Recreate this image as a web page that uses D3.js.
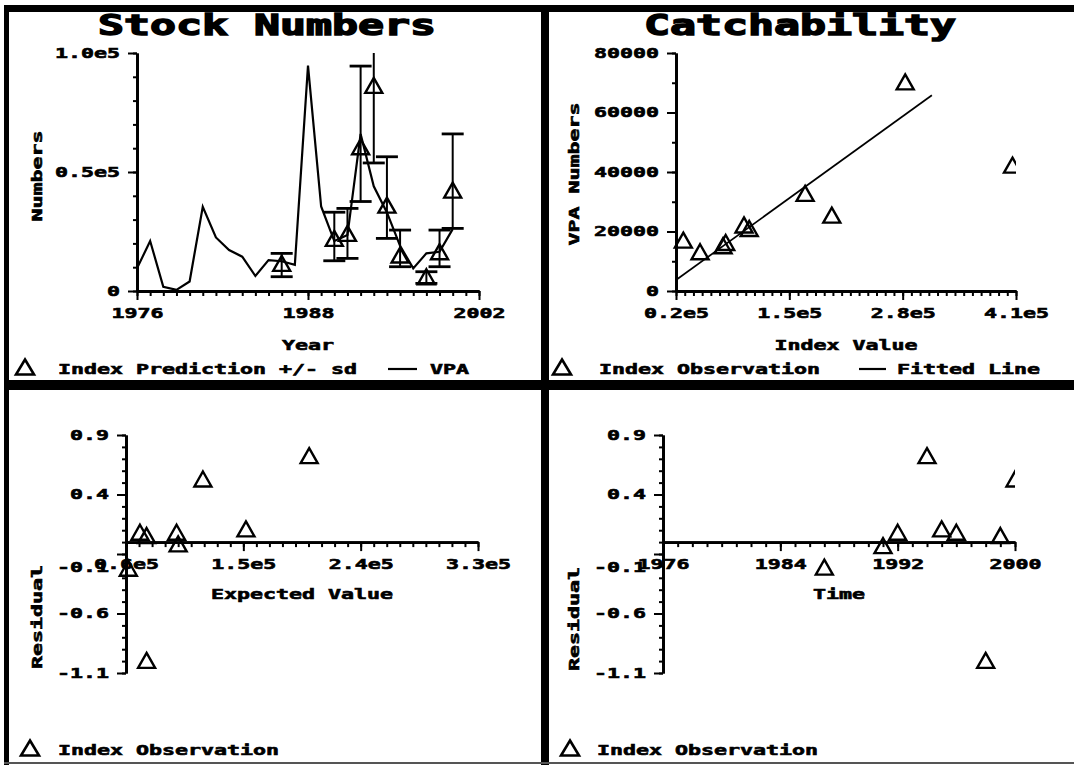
<!DOCTYPE html>
<html><head><meta charset="utf-8">
<script src="https://cdn.jsdelivr.net/npm/d3@7"></script>
<style>html,body{margin:0;padding:0;background:#fff;} svg{display:block;}</style>
</head><body>
<svg id="c" width="1074" height="765"></svg>
<script>
// ---------------- DATA ----------------
// Panel 1: Stock Numbers
const vpaYears  = [1976,1977,1978,1979,1980,1981,1982,1983,1984,1985,1986,1987,1988,1989,1990,1991,1992,1993,1994,1995,1996,1997,1998,1999,2000];
const vpaValues = [9500,21000,1800,500,4000,35400,22500,17200,14400,6300,13000,12500,11000,94700,35500,21000,23500,66000,44000,33000,19000,9500,15800,16500,26000];
const idxYears  = [1987,1991,1992,1993,1994,1995,1996,1998,1999,2000];
const idxPred   = [11600,22100,24200,60600,86400,36100,15100,6000,16500,42400];
const idxLower  = [6000,12700,13700,37600,53800,22100,10200,3200,10200,26300];
const idxUpper  = [15800,33100,34700,94500,108000,56400,25600,8100,25600,66000];
const stockXTicks  = [1976,1989,2002];
const stockXLabels = ["1976","1988","2002"];
const stockYTicks  = [0,50000,100000];
const stockYLabels = ["0","0.5e5","1.0e5"];

// Panel 2: Catchability
const catchIndex = [28400,47600,74000,77000,98000,104000,168100,198700,282900,406000];
const catchVPA   = [17100,13200,15200,16300,22200,21000,32800,25500,70300,42300];
const fitIndex   = [20000,313500];
const fitVPA     = [3700,65800];
const catchXTicks  = [20000,150000,280000,410000];
const catchXLabels = ["0.2e5","1.5e5","2.8e5","4.1e5"];
const catchYTicks  = [0,20000,40000,60000,80000];
const catchYLabels = ["0","20000","40000","60000","80000"];

// Panel 3: Residual vs Expected Value
const resExpected = [61800,70700,75800,98800,100000,119000,152000,200500,75800];
const resExpValue = [-0.22,0.083,0.055,0.083,-0.015,0.53,0.111,0.727,-0.994];
const expXTicks  = [60000,150000,240000,330000];
const expXLabels = ["0.6e5","1.5e5","2.4e5","3.3e5"];

// Panel 4: Residual vs Time
const resYears     = [1987,1991,1992,1994,1995,1996,1998,1999,2000];
const resTimeValue = [-0.21,-0.03,0.083,0.727,0.111,0.083,-0.994,0.055,0.53];
const timeXTicks  = [1976,1984,1992,2000];
const timeXLabels = ["1976","1984","1992","2000"];

const resYTicks  = [0.9,0.4,-0.1,-0.6,-1.1];
const resYLabels = ["0.9","0.4","-0.1","-0.6","-1.1"];

// ---------------- DRAWING ----------------
const svg = d3.select("#c");
const FONT = "'DejaVu Sans Mono', 'Liberation Mono', monospace";
const CW = 13, FS = 14;

function styleText(sel, cw, fs, sw) {
  sel.attr("font-family", FONT).attr("font-weight", "bold")
     .attr("font-size", fs).attr("fill", "#000")
     .attr("stroke", "#000").attr("stroke-width", sw == null ? 0.6 : sw)
     .each(function(){
       const s = this.textContent;
       d3.select(this).attr("textLength", s.length*cw).attr("lengthAdjust","spacingAndGlyphs");
     });
  return sel;
}
function text(g, x, y, s, anchor, cw, fs, rot, sw) {
  const t = g.append("text").attr("x", x).attr("y", y).attr("text-anchor", anchor || "start").text(s);
  if (rot) t.attr("transform", `rotate(${rot},${x},${y})`);
  styleText(t, cw || CW, fs || FS, sw);
  return t;
}
function triPath(w, h) {
  return `M0,${-h/2}L${w/2},${h/2}L${-w/2},${h/2}Z`;
}
const TRI = triPath(17, 15);

let clipId = 0;
function panel(cfg) {
  const g = svg.append("g");
  const x = d3.scaleLinear().domain(cfg.xDomain).range(cfg.xRange);
  const y = d3.scaleLinear().domain(cfg.yDomain).range(cfg.yRange);
  const axY = y(cfg.xAxisAt);
  const axX = cfg.xRange[0];

  const gxm = g.append("g").attr("transform", `translate(0,${axY})`)
    .call(d3.axisBottom(x).tickValues(cfg.xMinor).tickSize(5).tickSizeOuter(0).tickFormat(""));
  const gx = g.append("g").attr("transform", `translate(0,${axY})`)
    .call(d3.axisBottom(x).tickValues(cfg.xTicks).tickSize(9).tickSizeOuter(0).tickPadding(8)
      .tickFormat((d,i)=>cfg.xLabels[i]));
  const gym = g.append("g").attr("transform", `translate(${axX},0)`)
    .call(d3.axisLeft(y).tickValues(cfg.yMinor).tickSize(4).tickSizeOuter(0).tickFormat(""));
  const gy = g.append("g").attr("transform", `translate(${axX},0)`)
    .call(d3.axisLeft(y).tickValues(cfg.yTicks).tickSize(9).tickSizeOuter(0).tickPadding(8)
      .tickFormat((d,i)=>cfg.yLabels[i]));
  [gxm,gx,gym,gy].forEach(a=>{
    a.attr("font-family", null).attr("font-size", null);
    a.select(".domain").attr("stroke","#000").attr("stroke-width",2.8);
    a.selectAll(".tick line").attr("stroke","#000").attr("stroke-width",2);
  });
  styleText(gx.selectAll("text"), CW, FS);
  styleText(gy.selectAll("text"), CW, FS);
  gy.selectAll(".tick").each(function(d){
    if (Math.abs(y(d) - axY) > 2 && Math.abs(y(d) - axY) < 20) d3.select(this).select("text").attr("dy", "1.25em");
  });

  const id = "clip" + (clipId++);
  g.append("clipPath").attr("id", id).append("rect")
    .attr("x", cfg.xRange[0]-40).attr("y", cfg.yRange[1])
    .attr("width", cfg.xRange[1]-cfg.xRange[0]+40).attr("height", cfg.yRange[0]-cfg.yRange[1]+40);
  const pg = g.append("g").attr("clip-path", `url(#${id})`);
  cfg.draw(pg, x, y);

  if (cfg.title) text(g, cfg.titleX, 35, cfg.title, "middle", 26, 28, 0, 1.4);
  text(g, (cfg.xRange[0]+cfg.xRange[1])/2, cfg.xLabelY, cfg.xLabel, "middle");
  text(g, cfg.yLabelX, cfg.yLabelY, cfg.yLabel, "middle", CW, FS, -90);
  return g;
}

function tri(g, cx, cy) {
  g.append("path").attr("d", TRI).attr("transform", `translate(${cx},${cy})`)
    .attr("fill","none").attr("stroke","#000").attr("stroke-width",2.4);
}

// Panel 1
panel({
  xDomain:[1976,2002], xRange:[137,479], yDomain:[0,100000], yRange:[291,53], xAxisAt:0,
  xMinor:d3.range(1976,2003,1), xTicks:stockXTicks, xLabels:stockXLabels,
  yMinor:d3.range(0,100001,10000), yTicks:stockYTicks, yLabels:stockYLabels,
  title:"Stock Numbers", titleX:267, xLabel:"Year", xLabelY:350, yLabel:"Numbers", yLabelX:42, yLabelY:176,
  draw:(g,x,y)=>{
    g.append("path").datum(vpaYears.map((d,i)=>[d,vpaValues[i]]))
      .attr("d", d3.line().x(d=>x(d[0])).y(d=>y(d[1])))
      .attr("fill","none").attr("stroke","#000").attr("stroke-width",2.2).attr("stroke-linejoin","miter");
    idxYears.forEach((yr,i)=>{
      const cx = x(yr);
      g.append("line").attr("x1",cx).attr("x2",cx).attr("y1",y(idxLower[i])).attr("y2",y(idxUpper[i]))
        .attr("stroke","#000").attr("stroke-width",2);
      [idxLower[i], idxUpper[i]].forEach(v=>{
        g.append("line").attr("x1",cx-11).attr("x2",cx+11).attr("y1",y(v)).attr("y2",y(v))
          .attr("stroke","#000").attr("stroke-width",2.8);
      });
      tri(g, cx, y(idxPred[i]));
    });
  }
});

// Panel 2
panel({
  xDomain:[20000,410000], xRange:[676,1016], yDomain:[0,80000], yRange:[291,53], xAxisAt:0,
  xMinor:d3.range(20000,410001,10000), xTicks:catchXTicks, xLabels:catchXLabels,
  yMinor:d3.range(0,80001,10000), yTicks:catchYTicks, yLabels:catchYLabels,
  title:"Catchability", titleX:800, xLabel:"Index Value", xLabelY:350, yLabel:"VPA Numbers", yLabelX:579, yLabelY:174,
  draw:(g,x,y)=>{
    g.append("line").attr("x1",x(fitIndex[0])).attr("y1",y(fitVPA[0]))
      .attr("x2",x(fitIndex[1])).attr("y2",y(fitVPA[1]))
      .attr("stroke","#000").attr("stroke-width",1.7);
    catchIndex.forEach((v,i)=>tri(g, x(v), y(catchVPA[i])));
  }
});

// Panel 3
panel({
  xDomain:[60000,330000], xRange:[126,478], yDomain:[-1.1,0.9], yRange:[673,435], xAxisAt:0,
  xMinor:d3.range(60000,330001,10000), xTicks:expXTicks, xLabels:expXLabels,
  yMinor:d3.range(-1.1,0.901,0.1), yTicks:resYTicks, yLabels:resYLabels,
  xLabel:"Expected Value", xLabelY:599, yLabel:"Residual", yLabelX:42, yLabelY:617,
  draw:(g,x,y)=>{
    resExpected.forEach((v,i)=>tri(g, x(v), y(resExpValue[i])));
  }
});

// Panel 4
panel({
  xDomain:[1976,2000], xRange:[663,1015], yDomain:[-1.1,0.9], yRange:[673,435], xAxisAt:0,
  xMinor:d3.range(1976,2001,1), xTicks:timeXTicks, xLabels:timeXLabels,
  yMinor:d3.range(-1.1,0.901,0.1), yTicks:resYTicks, yLabels:resYLabels,
  xLabel:"Time", xLabelY:599, yLabel:"Residual", yLabelX:579, yLabelY:619,
  draw:(g,x,y)=>{
    resYears.forEach((v,i)=>tri(g, x(v), y(resTimeValue[i])));
  }
});

// Legends
const lg = svg.append("g");
function legendTri(cx, cy) {
  lg.append("path").attr("d", triPath(18,15)).attr("transform",`translate(${cx},${cy})`)
    .attr("fill","none").attr("stroke","#000").attr("stroke-width",2.6);
}
legendTri(25, 367); text(lg, 58, 374, "Index Prediction +/- sd");
lg.append("line").attr("x1",388).attr("x2",417).attr("y1",369).attr("y2",369).attr("stroke","#000").attr("stroke-width",2.2);
text(lg, 430, 374, "VPA");
legendTri(562, 367); text(lg, 599, 374, "Index Observation");
lg.append("line").attr("x1",859).attr("x2",886).attr("y1",369).attr("y2",369).attr("stroke","#000").attr("stroke-width",2.2);
text(lg, 897, 374, "Fitted Line");
legendTri(30, 748); text(lg, 58, 755, "Index Observation");
legendTri(570, 748); text(lg, 597, 755, "Index Observation");

// Frame
const fr = svg.append("g");
fr.append("rect").attr("x",4).attr("y",5).attr("width",1070).attr("height",7).attr("fill","#000");
fr.append("rect").attr("x",4).attr("y",5).attr("width",5).attr("height",760).attr("fill","#000");
fr.append("rect").attr("x",541).attr("y",5).attr("width",8).attr("height",760).attr("fill","#000");
fr.append("rect").attr("x",4).attr("y",380).attr("width",1070).attr("height",10).attr("fill","#000");
fr.append("rect").attr("x",4).attr("y",762).attr("width",1070).attr("height",2).attr("fill","#555");
</script>
</body></html>
